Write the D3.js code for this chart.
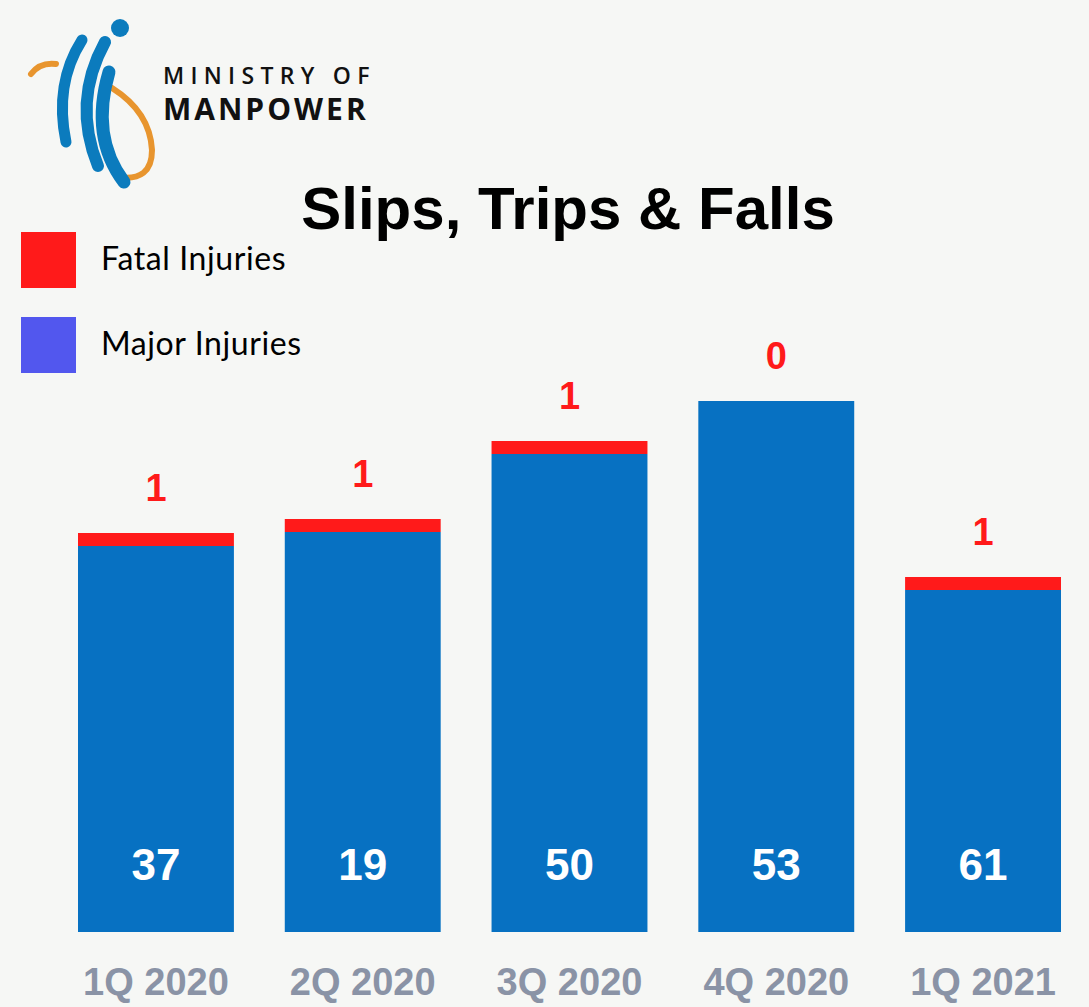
<!DOCTYPE html>
<html lang="en">
<head>
    <meta charset="utf-8">
    <title>Slips, Trips & Falls</title>
    <script src="https://cdn.jsdelivr.net/npm/d3@7"></script>
    <style type="text/css">
        body {
            margin: 0;
            background: #f6f7f5;
        }

        .num {
            font-family: "Liberation Sans", Arial, sans-serif;
            font-weight: bold;
        }

        .legend {
            font-family: Lato, "Noto Sans", sans-serif;
            font-size: 32px;
            letter-spacing: 0.6px;
            fill: #000;
        }
    </style>
</head>
<body>
    <div id="chart"></div>
    <script>
        // data
        var quarters = ["1Q 2020", "2Q 2020", "3Q 2020", "4Q 2020", "1Q 2021"];
        var majorInjuries = [37, 19, 50, 53, 61];
        var fatalInjuries = [1, 1, 1, 0, 1];
        // bars in the graphic are not drawn to scale with the labels,
        // so these are the drawn levels (chart units) as pictured
        var majorLevel = [386, 400, 478, 531, 342];
        var fatalLevel = [13, 13, 13, 0, 13];

        var legendItems = ["Fatal Injuries", "Major Injuries"];
        var legendColors = ["#ff1a1a", "#5257ee"];

        var width = 1089, height = 1007;

        var svg = d3.select("#chart")
            .append("svg")
            .attr("width", width)
            .attr("height", height);

        svg.append("rect")
            .attr("width", width)
            .attr("height", height)
            .attr("fill", "#f6f7f5");

        var x = d3.scaleBand()
            .domain(quarters)
            .range([78, 1061])
            .paddingInner(0.246)
            .paddingOuter(0);

        var y = d3.scaleLinear()
            .domain([0, 540])
            .range([932, 392]);

        var rows = quarters.map(function (q, i) {
            return { q: q, major: majorInjuries[i], fatal: fatalInjuries[i], ml: majorLevel[i], fl: fatalLevel[i] };
        });

        //logo
        var logo = svg.append("g");
        logo.append("path")
            .attr("d", "M31 74 Q40 62 56 64")
            .attr("fill", "none").attr("stroke", "#e8952e").attr("stroke-width", 6).attr("stroke-linecap", "round");
        logo.append("path")
            .attr("d", "M112 88 Q150 112 152 150 Q152 182 118 177")
            .attr("fill", "none").attr("stroke", "#e8952e").attr("stroke-width", 6).attr("stroke-linecap", "round");
        logo.append("path")
            .attr("d", "M82 40 Q54 84 66 142")
            .attr("fill", "none").attr("stroke", "#0b7bbd").attr("stroke-width", 11).attr("stroke-linecap", "round");
        logo.append("path")
            .attr("d", "M105 42 Q72 102 98 166")
            .attr("fill", "none").attr("stroke", "#0b7bbd").attr("stroke-width", 12).attr("stroke-linecap", "round");
        logo.append("path")
            .attr("d", "M109 72 Q90 137 124 182")
            .attr("fill", "none").attr("stroke", "#0b7bbd").attr("stroke-width", 13).attr("stroke-linecap", "round");
        logo.append("circle")
            .attr("cx", 120).attr("cy", 28).attr("r", 9).attr("fill", "#0b7bbd");
        logo.append("text")
            .attr("x", 163).attr("y", 84)
            .attr("font-family", "'Open Sans', 'Noto Sans', sans-serif")
            .attr("font-size", 23)
            .attr("font-weight", 600)
            .attr("letter-spacing", 6.3)
            .attr("fill", "#111")
            .text("MINISTRY OF");
        logo.append("text")
            .attr("x", 163).attr("y", 120)
            .attr("font-family", "'Open Sans', 'Noto Sans', sans-serif")
            .attr("font-weight", 700)
            .attr("font-size", 30)
            .attr("letter-spacing", 3)
            .attr("fill", "#111")
            .text("MANPOWER");

        //title
        svg.append("text")
            .attr("class", "num")
            .attr("x", 568)
            .attr("y", 229)
            .attr("text-anchor", "middle")
            .attr("font-size", 60)
            .attr("fill", "#000")
            .text("Slips, Trips & Falls");

        //legend
        var leg = svg.selectAll(".leg")
            .data(legendItems)
            .enter()
            .append("g")
            .attr("transform", function (d, i) { return "translate(21," + (232 + 85 * i) + ")"; });
        leg.append("rect")
            .attr("width", 55)
            .attr("height", 56)
            .attr("fill", function (d, i) { return legendColors[i]; });
        leg.append("text")
            .attr("class", "legend")
            .attr("x", 80)
            .attr("y", 38)
            .text(function (d) { return d; });

        //bars
        svg.selectAll(".major")
            .data(rows)
            .enter()
            .append("rect")
            .attr("x", function (d) { return x(d.q); })
            .attr("y", function (d) { return y(d.ml); })
            .attr("width", x.bandwidth())
            .attr("height", function (d) { return y(0) - y(d.ml); })
            .attr("fill", "#0771c2");

        svg.selectAll(".fatal")
            .data(rows.filter(function (d) { return d.fl > 0; }))
            .enter()
            .append("rect")
            .attr("x", function (d) { return x(d.q); })
            .attr("y", function (d) { return y(d.ml + d.fl); })
            .attr("width", x.bandwidth())
            .attr("height", function (d) { return y(d.ml) - y(d.ml + d.fl); })
            .attr("fill", "#ff1a1a");

        //labels
        svg.selectAll(".flabel")
            .data(rows)
            .enter()
            .append("text")
            .attr("class", "num")
            .attr("x", function (d) { return x(d.q) + x.bandwidth() / 2; })
            .attr("y", function (d) { return y(d.ml + d.fl) - 32; })
            .attr("text-anchor", "middle")
            .attr("font-size", 38)
            .attr("fill", "#ff1a1a")
            .text(function (d) { return d.fatal; });

        svg.selectAll(".mlabel")
            .data(rows)
            .enter()
            .append("text")
            .attr("class", "num")
            .attr("x", function (d) { return x(d.q) + x.bandwidth() / 2; })
            .attr("y", 880)
            .attr("text-anchor", "middle")
            .attr("font-size", 44)
            .attr("fill", "#fff")
            .text(function (d) { return d.major; });

        var xAxis = svg.append("g")
            .attr("transform", "translate(0,932)")
            .call(d3.axisBottom(x).tickSize(0).tickPadding(0));
        xAxis.select(".domain").remove();
        xAxis.selectAll("text")
            .attr("class", "num")
            .attr("dy", 0)
            .attr("y", 63)
            .attr("font-size", 38)
            .attr("fill", "#8a93a6");
    </script>
</body>
</html>
